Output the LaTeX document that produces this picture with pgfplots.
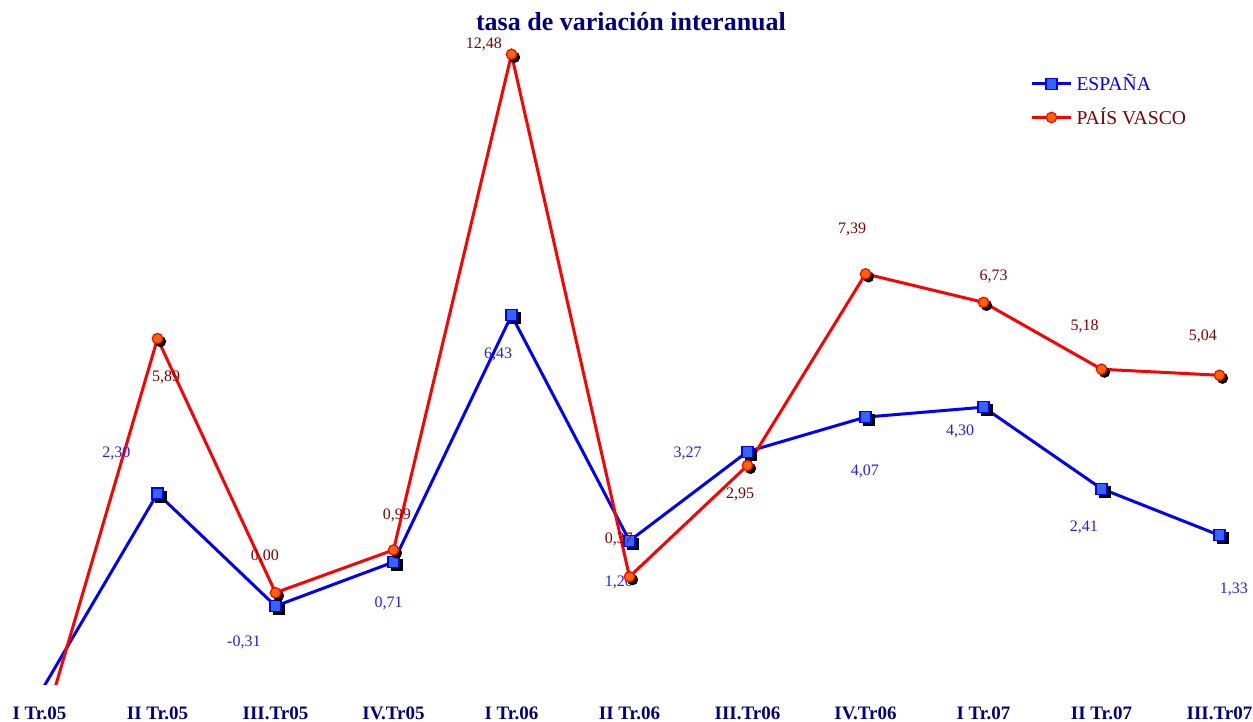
\documentclass[border=0pt]{standalone}
\usepackage{pgfplots}
\pgfplotsset{compat=1.18}
\usepackage{pgfplotstable}
\usepackage{fontspec}
\setmainfont{Liberation Serif}

\definecolor{espline}{RGB}{0,0,255}
\definecolor{espfill}{RGB}{51,102,255}
\definecolor{esplab}{RGB}{30,30,255}
\definecolor{pvline}{RGB}{255,0,0}
\definecolor{pvfill}{RGB}{255,102,0}
\definecolor{pvlab}{RGB}{128,0,0}
\definecolor{navy}{RGB}{0,0,128}

% x: quarter index, y: year-on-year rate, dx/dy: label offset (pt), lab: printed value
\pgfplotstableread{
x y dx dy lab
0 -2.35 0 0 -2,35
1 2.30 -20.6 20 2,30
2 -0.31 -15.8 -18.4 -0,31
3 0.71 -2.5 -20.5 0,71
4 6.43 -6.75 -19.5 6,43
5 1.20 -5.3 -20.5 1,20
6 3.27 -30 -1 3,27
7 4.07 -0.3 -27 4,07
8 4.30 -11.7 -12 4,30
9 2.41 -8.8 -19.2 2,41
10 1.33 7.2 -27.2 1,33
}\espana

\pgfplotstableread{
x y dx dy lab
0 -3.43 0 0 -3,43
1 5.89 4.3 -19.3 5,89
2 0.00 -5.3 18 0,00
3 0.99 1.7 17.5 0,99
4 12.48 -13.8 5.0 12,48
5 0.37 -5.3 18.7 0,37
6 2.95 -3.7 -14.7 2,95
7 7.39 -6.7 22.2 7,39
8 6.73 5 12.8 6,73
9 5.18 -8.5 21.3 5,18
10 5.04 -8.3 19.5 5,04
}\paisvasco

\pgfplotsset{
  labelled/.style={
    only marks,
    skip coords between index={0}{1},
    point meta=explicit symbolic,
    visualization depends on={\thisrow{dx}\as\ldx},
    visualization depends on={\thisrow{dy}\as\ldy},
    nodes near coords,
    nodes near coords style={anchor=center, xshift=\ldx pt, yshift=\ldy pt,
      font=\fontsize{8}{9.6}\selectfont, text=#1},
  },
  shadow/.style={
    only marks, forget plot, skip coords between index={0}{1},
    mark options={draw=black, fill=black, xshift=1.5pt, yshift=-1.5pt},
  },
}

\begin{document}
\begin{tikzpicture}
\begin{axis}[
  scale only axis,
  width=590pt, height=326.55pt,
  xmin=0, xmax=10, ymin=-2.14, ymax=13,
  axis line style={draw=none},
  major tick length=0pt,
  ytick=\empty,
  xtick={0,...,10},
  xticklabels={I Tr.05, II Tr.05, III.Tr05, IV.Tr05, I Tr.06, II Tr.06,
               III.Tr06, IV.Tr06, I Tr.07, II Tr.07, III.Tr07},
  xticklabel style={font=\bfseries\fontsize{9.5}{11}\selectfont, text=navy, yshift=-7.2pt},
  title={tasa de variación interanual},
  title style={font=\bfseries\fontsize{13}{15.6}\selectfont, text=navy,
               at={(0.5,1)}, anchor=base, yshift=-5.5pt, xshift=0.75pt},
  legend style={draw=none, fill=none, at={(0.8395,0.942)}, anchor=north west,
                font=\fontsize{9.8}{11.8}\selectfont, inner sep=0pt,
                row sep=3pt},
  legend cell align=left,
  legend image code/.code={%
    \draw[mark repeat=2, mark phase=2]
      plot coordinates {(0pt,0pt) (9.75pt,0pt) (19.5pt,0pt)};},
]
  % ESPAÑA
  \addplot[draw=espline, line width=1.5pt, forget plot] table[x=x, y=y] {\espana};
  \addplot[shadow, mark=square*, mark size=2.75pt] table[x=x, y=y] {\espana};
  \addplot[labelled=esplab, forget plot, mark=square*, mark size=2.75pt,
           mark options={draw=espline, fill=espfill, line width=0.6pt}]
    table[x=x, y=y, meta=lab] {\espana};

  % PAÍS VASCO
  \addplot[draw=pvline, line width=1.5pt, forget plot] table[x=x, y=y] {\paisvasco};
  \addplot[shadow, mark=*, mark size=2.6pt] table[x=x, y=y] {\paisvasco};
  \addplot[labelled=pvlab, forget plot, mark=*, mark size=2.6pt,
           mark options={draw=pvline, fill=pvfill, line width=0.6pt}]
    table[x=x, y=y, meta=lab] {\paisvasco};

  \addlegendimage{draw=espline, line width=1.5pt, mark=square*, mark size=2.75pt,
                  mark options={draw=espline, fill=espfill, line width=0.6pt}}
  \addlegendentry{\textcolor{espline}{ESPAÑA}}
  \addlegendimage{draw=pvline, line width=1.5pt, mark=*, mark size=2.6pt,
                  mark options={draw=pvline, fill=pvfill, line width=0.6pt}}
  \addlegendentry{\textcolor{pvlab}{PAÍS VASCO}}

  \coordinate (bl) at (rel axis cs:0,0);
  \coordinate (tr) at (rel axis cs:1,1);
\end{axis}
\pgfresetboundingbox
\path[use as bounding box] ([shift={(-19.75pt,-18.5pt)}]bl) rectangle ([shift={(16.75pt,15.95pt)}]tr);
\end{tikzpicture}
\end{document}
